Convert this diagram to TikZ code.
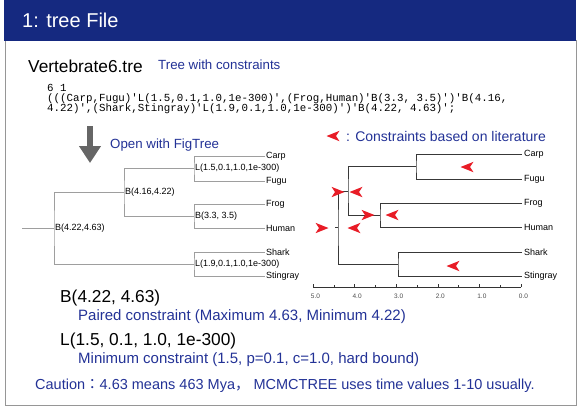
\documentclass[tikz,border=0pt]{standalone}
\usepackage{fontspec}
\setmainfont{Liberation Sans}
\setmonofont{Liberation Mono}
\newfontfamily\cjk{Noto Sans CJK JP}
\usetikzlibrary{arrows.meta, positioning}
\definecolor{headblue}{RGB}{21,41,128}
\definecolor{txtblue}{RGB}{35,50,150}
\definecolor{conred}{RGB}{232,28,38}
\definecolor{framegray}{RGB}{150,150,150}
\newcommand{\fs}[1]{\fontsize{#1}{#1}\selectfont}

\begin{document}
\begin{tikzpicture}[x=1pt, y=-1pt,
    every node/.style={inner sep=0pt, anchor=west},
    title/.style={font=\fs{17.3}},
    note/.style={font=\fs{13.3}, text=txtblue},
    code/.style={font=\ttfamily\fs{10.8}},
    ltree/.style={draw=black!38, line width=0.6pt},
    rtree/.style={draw=black!78, line width=0.8pt},
    llab/.style={font=\fs{9}, inner sep=1pt},
    rlab/.style={font=\fs{9}, inner sep=2pt},
    conL/.pic={\fill[conred] (-6.5,0) -- (6.5,-5.2) -- (3,0) -- (6.5,5.2) -- cycle;},
    conR/.pic={\fill[conred] (6.5,0) -- (-6.5,-5.2) -- (-3,0) -- (-6.5,5.2) -- cycle;}]
    \useasboundingbox (0,0) rectangle (579,408);

    % Frame and header
    \draw[framegray, line width=1pt] (5,40) -- (5,405) -- (576,405) -- (576,40);
    \fill[headblue] (4,0) rectangle (576,40.5);
    \node[text=white, font=\fs{20}] (head) at (22,20) {1: tree File};

    % File name and tree string
    \node[title] (fname) at (28,66) {Vertebrate6.tre};
    \node[note] (fnote) at (158,65) {Tree with constraints};
    \node[code] (code1) at (47,87.5) {6 1};
    \node[code] (code2) at (47,98.5) {(((Carp,Fugu)'L(1.5,0.1,1.0,1e-300)',(Frog,Human)'B(3.3, 3.5)')'B(4.16,};
    \node[code] (code3) at (47,108.5) {4.22)',(Shark,Stingray)'L(1.9,0.1,1.0,1e-300)')'B(4.22, 4.63)';};

    % Open arrow
    \coordinate (arrtop) at (90,126);
    \coordinate (arrbot) at (90,163);
    \draw[black!60, line width=6.5pt, -{Triangle[width=21pt, length=17pt]}] (arrtop) -- (arrbot);
    \node[note] (open) at (110,145) {Open with FigTree};

    % Left tree (with labels)
    \coordinate (lroot) at (22,228);
    \node[llab, right] (lA) at (54,228) {B(4.22,4.63)};
    \node[llab, right] (lB) at (124,192) {B(4.16,4.22)};
    \node[llab, right] (lC) at (194,168.5) {L(1.5,0.1,1.0,1e-300)};
    \node[llab, right] (lD) at (194,216) {B(3.3, 3.5)};
    \node[llab, right] (lE) at (194,264) {L(1.9,0.1,1.0,1e-300)};
    \node[llab, right] (lcarp) at (265,156) {Carp};
    \node[llab, right] (lfugu) at (265,181) {Fugu};
    \node[llab, right] (lfrog) at (265,204) {Frog};
    \node[llab, right] (lhuman) at (265,228) {Human};
    \node[llab, right] (lshark) at (265,252) {Shark};
    \node[llab, right] (lsting) at (265,276) {Stingray};
    \draw[ltree] (lroot) -- (lA.west);
    \draw[ltree] (lB.west) -| (lA.west) |- (lE.west);
    \draw[ltree] (lC.west) -| (lB.west) |- (lD.west);
    \draw[ltree] (lcarp.west) -| (lC.west) |- (lfugu.west);
    \draw[ltree] (lfrog.west) -| (lD.west) |- (lhuman.west);
    \draw[ltree] (lshark.west) -| (lE.west) |- (lsting.west);

    % Right tree (time scale)
    \node[note, font=\fs{14}] (legtext) at (346,136) {: Constraints based on literature};
    \pic at (333,136) {conL};
    \coordinate (rroot) at (338,227.5);
    \coordinate (rost) at (348,191);
    \coordinate (rcf) at (416,166.5);
    \coordinate (rfh) at (380,215);
    \coordinate (rss) at (398,264);
    \node[rlab, right] (rcarp) at (522,154) {Carp};
    \node[rlab, right] (rfugu) at (522,179) {Fugu};
    \node[rlab, right] (rfrog) at (522,203) {Frog};
    \node[rlab, right] (rhuman) at (522,227) {Human};
    \node[rlab, right] (rshark) at (522,252) {Shark};
    \node[rlab, right] (rsting) at (522,276) {Stingray};
    \draw[rtree] (rroot) -- ++(-3,0);
    \draw[rtree] (rost) -| (rroot) |- (rss);
    \draw[rtree] (rcf) -| (rost) |- (rfh);
    \draw[rtree] (rcarp.west) -| (rcf) |- (rfugu.west);
    \draw[rtree] (rfrog.west) -| (rfh) |- (rhuman.west);
    \draw[rtree] (rshark.west) -| (rss) |- (rsting.west);

    % Constraint marks
    \pic at (467,167) {conL};
    \pic at (338,192) {conR};
    \pic at (356,192) {conL};
    \pic at (368,215) {conR};
    \pic at (392,215) {conL};
    \pic at (322,228) {conR};
    \pic at (354,228) {conL};
    \pic at (453,266) {conL};

    % Time axis
    \draw[black!80, line width=0.6pt] (313,287) -- (521,287);
    \foreach \i in {0,...,10} {
        \pgfmathsetmacro{\len}{ifthenelse(mod(\i,2)==0, 3.5, 2)}
        \draw[black!80, line width=0.5pt] (521-\i*20.8,287) -- ++(0,-\len);
    }
    \foreach \t in {0,...,5}
        \node[font=\fs{6.5}, text=black!70, anchor=center] (ax\t) at (523.5-\t*41.6,296) {\t.0};

    % Explanation
    \node[title] (bpair) at (60,298) {B(4.22, 4.63)};
    \node[note, font=\fs{15}] (bnote) at (78,317) {Paired constraint (Maximum 4.63, Minimum 4.22)};
    \node[title] (lmin) at (60,341) {L(1.5, 0.1, 1.0, 1e-300)};
    \node[note, font=\fs{15}] (lnote) at (78,360) {Minimum constraint (1.5, p=0.1, c=1.0, hard bound)};
    \node[note, font=\fs{14.5}] (caution) at (35,386) {Caution{\cjk ：}4.63 means 463 Mya{\cjk ，} MCMCTREE uses time values 1-10 usually.};
\end{tikzpicture}
\end{document}
